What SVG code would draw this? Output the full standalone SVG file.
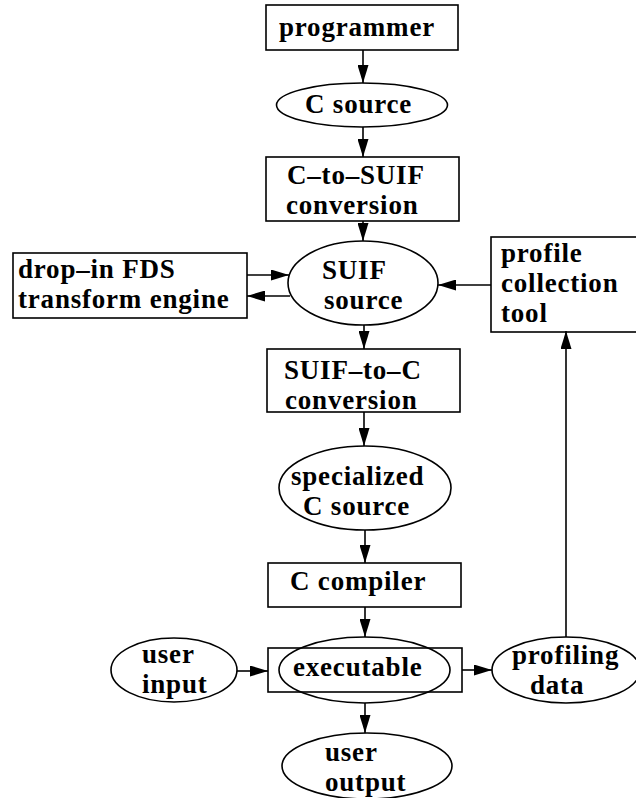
<svg xmlns="http://www.w3.org/2000/svg" width="636" height="798" viewBox="0 0 636 798">
<style>
  .box { fill: none; stroke: #000; stroke-width: 1.6; }
  .ell { fill: none; stroke: #000; stroke-width: 1.6; }
  .lbl { font-family: "Liberation Serif", "Times New Roman", serif; font-weight: bold; font-size: 27px; letter-spacing: 0.8px; fill: #000; }
  .edge { fill: none; stroke: #000; stroke-width: 1.6; marker-end: url(#ah); }
</style>
<defs>
  <marker id="ah" markerUnits="userSpaceOnUse" markerWidth="18" markerHeight="11" refX="18" refY="5.5" orient="auto">
    <path d="M0,0 L18,5.5 L0,11 z" fill="#000"/>
  </marker>
</defs>
<rect width="636" height="798" fill="#fff"/>

<g id="programmer">
  <rect class="box" x="266" y="5" width="192" height="45"/>
  <text class="lbl" x="279" y="36">programmer</text>
</g>
<g id="c-source">
  <ellipse class="ell" cx="362" cy="105" rx="85.5" ry="22"/>
  <text class="lbl" x="305" y="113">C source</text>
</g>
<g id="c-to-suif">
  <rect class="box" x="266" y="157" width="193" height="64"/>
  <text class="lbl" x="287" y="184">C–to–SUIF</text>
  <text class="lbl" x="286" y="214">conversion</text>
</g>
<g id="drop-in">
  <rect class="box" x="13" y="253" width="234" height="65"/>
  <text class="lbl" x="18" y="278">drop–in FDS</text>
  <text class="lbl" x="18" y="308">transform engine</text>
</g>
<g id="suif-source">
  <ellipse class="ell" cx="363" cy="283" rx="75" ry="42"/>
  <text class="lbl" x="322" y="279">SUIF</text>
  <text class="lbl" x="324" y="309">source</text>
</g>
<g id="profile-tool">
  <rect class="box" x="491" y="237" width="150" height="95"/>
  <text class="lbl" x="501" y="262">profile</text>
  <text class="lbl" x="501" y="292">collection</text>
  <text class="lbl" x="501" y="322">tool</text>
</g>
<g id="suif-to-c">
  <rect class="box" x="267" y="349" width="193" height="63"/>
  <text class="lbl" x="284" y="379">SUIF–to–C</text>
  <text class="lbl" x="285" y="409">conversion</text>
</g>
<g id="specialized">
  <ellipse class="ell" cx="365" cy="488" rx="86" ry="42"/>
  <text class="lbl" x="291" y="485">specialized</text>
  <text class="lbl" x="303" y="515">C source</text>
</g>
<g id="c-compiler">
  <rect class="box" x="268" y="563" width="193" height="44"/>
  <text class="lbl" x="290" y="590">C compiler</text>
</g>
<g id="executable">
  <rect class="box" x="268" y="648" width="194" height="44"/>
  <ellipse class="ell" cx="364.5" cy="670" rx="85.5" ry="33"/>
  <text class="lbl" x="293" y="676">executable</text>
</g>
<g id="user-input">
  <ellipse class="ell" cx="174" cy="670" rx="63" ry="32"/>
  <text class="lbl" x="142" y="663">user</text>
  <text class="lbl" x="142" y="693">input</text>
</g>
<g id="profiling-data">
  <ellipse class="ell" cx="566" cy="670" rx="74" ry="33"/>
  <text class="lbl" x="512" y="664">profiling</text>
  <text class="lbl" x="530" y="694">data</text>
</g>
<g id="user-output">
  <ellipse class="ell" cx="367" cy="766" rx="85" ry="33"/>
  <text class="lbl" x="325" y="761">user</text>
  <text class="lbl" x="325" y="791">output</text>
</g>

<g id="connectors">
  <line class="edge" x1="363" y1="50" x2="363" y2="83"/>
  <line class="edge" x1="363" y1="127" x2="363" y2="157"/>
  <line class="edge" x1="363" y1="221" x2="363" y2="241"/>
  <line class="edge" x1="247" y1="275" x2="289" y2="275"/>
  <line class="edge" x1="290" y1="296" x2="247" y2="296"/>
  <line class="edge" x1="491" y1="285" x2="438" y2="285"/>
  <line class="edge" x1="364" y1="325" x2="364" y2="349"/>
  <line class="edge" x1="364" y1="412" x2="364" y2="446"/>
  <line class="edge" x1="365" y1="530" x2="365" y2="563"/>
  <line class="edge" x1="365" y1="607" x2="365" y2="637"/>
  <line class="edge" x1="237" y1="671" x2="268" y2="671"/>
  <line class="edge" x1="462" y1="670" x2="492" y2="670"/>
  <line class="edge" x1="365" y1="703" x2="365" y2="733"/>
  <line class="edge" x1="566" y1="637" x2="566" y2="331"/>
</g>
</svg>
